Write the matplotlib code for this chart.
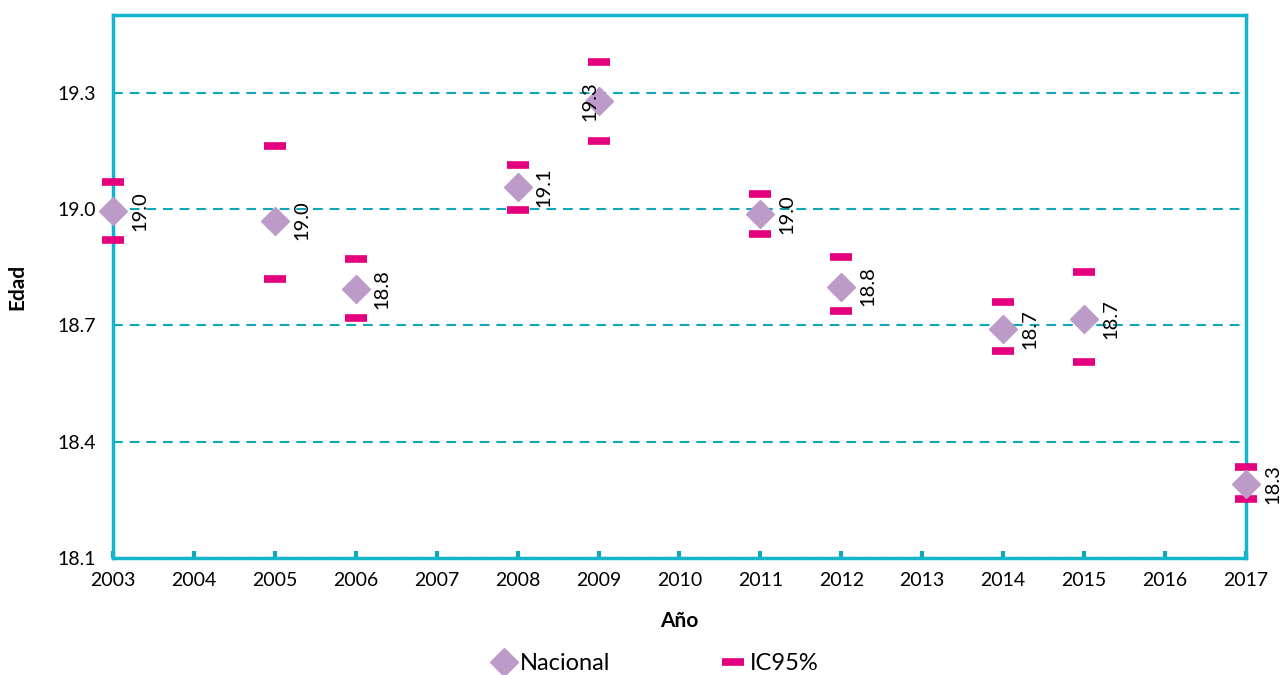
import matplotlib
matplotlib.use("Agg")
from matplotlib import pyplot as plt
from matplotlib.lines import Line2D

plt.rcParams['font.family'] = ['Lato', 'DejaVu Sans']

years = [2003, 2005, 2006, 2008, 2009, 2011, 2012, 2014, 2015, 2017]
nacional = [18.995, 18.97, 18.794, 19.057, 19.279, 18.987, 18.80, 18.69, 18.716, 18.29]
ic_upper = [19.07, 19.163, 18.87, 19.113, 19.38, 19.039, 18.876, 18.76, 18.837, 18.335]
ic_lower = [18.92, 18.82, 18.72, 18.997, 19.175, 18.935, 18.737, 18.634, 18.605, 18.252]
labels = ['19.0', '19.0', '18.8', '19.1', '19.3', '19.0', '18.8', '18.7', '18.7', '18.3']
xticks = list(range(2003, 2018))
yticks = [18.1, 18.4, 18.7, 19.0, 19.3]

teal = '#12B5CB'
grid_c = '#0FA8B8'
pink = '#E5007D'
purple = '#BC9BC9'

fig = plt.figure(figsize=(12.85, 6.75), dpi=100)
ax = fig.add_axes([0.0879, 0.1733, 0.8817, 0.8045])

for y in yticks:
    ax.axhline(y, color=grid_c, lw=1.5, ls=(0, (4.7, 3.3)), zorder=1)

ax.plot(years, ic_upper, ls='none', marker='_', ms=16, mew=5.5, color=pink, zorder=3, clip_on=False)
ax.plot(years, ic_lower, ls='none', marker='_', ms=16, mew=5.5, color=pink, zorder=3, clip_on=False)
ax.plot(years, nacional, ls='none', marker='D', ms=14, color=purple, mec=purple, zorder=4, clip_on=False)

for x, y, t in zip(years, nacional, labels):
    dx, dy = 13, 0
    if x == 2009:
        dx, dy = -12, 0
    ax.annotate(t, (x, y), xytext=(dx, dy), textcoords='offset points',
                rotation=90, ha='left', va='center', fontsize=14.5, zorder=5,
                annotation_clip=False)

ax.set_xlim(2003, 2017)
ax.set_ylim(18.1, 19.5)
ax.set_xticks(xticks)
ax.set_yticks(yticks)
ax.set_yticklabels(['18.1', '18.4', '18.7', '19.0', '19.3'])
ax.tick_params(axis='x', direction='in', length=5, width=3, color=grid_c, labelsize=14, pad=10)
ax.tick_params(axis='y', length=0, labelsize=14, pad=12)
for s in ax.spines.values():
    s.set_color(teal)
    s.set_linewidth(2.5)

ax.set_xlabel('Año', fontsize=15, fontweight='bold', labelpad=16)
ax.set_ylabel('Edad', fontsize=15, fontweight='bold', labelpad=22)

handles = [
    Line2D([], [], ls='none', marker='D', ms=14, color=purple),
    Line2D([], [], ls='none', marker='_', ms=16, mew=5.5, color=pink),
]
fig.legend(handles, ['Nacional', 'IC95%'], loc='center', bbox_to_anchor=(0.509, 0.017),
           ncol=2, frameon=False, fontsize=17, columnspacing=4.6, handletextpad=0.1,
           handlelength=1.2)

fig.savefig('out.png', dpi=100)
